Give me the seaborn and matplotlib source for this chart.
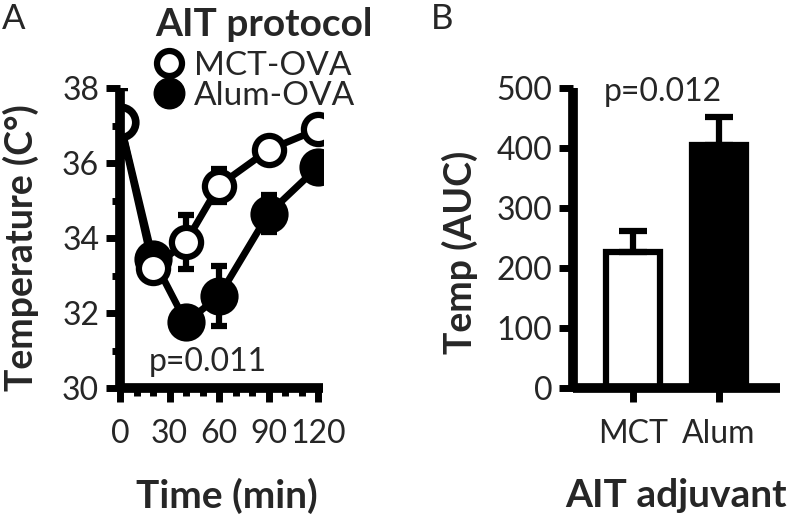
import matplotlib
matplotlib.use("Agg")
import matplotlib.pyplot as plt
from matplotlib.lines import Line2D
from matplotlib.ticker import MultipleLocator
import pandas as pd
import seaborn as sns

# Panel A: body temperature after challenge
TIME_MIN = [0, 20, 40, 60, 90, 120]
MCT_TEMP = [37.1, 33.2, 33.9, 35.4, 36.35, 36.9]
MCT_SEM = [0.9, 0.3, 0.72, 0.45, 0.2, 0.2]
ALUM_TEMP = [37.1, 33.45, 31.75, 32.45, 34.65, 35.9]
ALUM_SEM = [0.9, 0.3, 0.3, 0.8, 0.5, 0.2]

# Panel B: area under the curve
ADJUVANTS = ["MCT", "Alum"]
AUC_MEAN = [227, 405]
AUC_SEM = [35, 46]

FONT = ["Lato", "DejaVu Sans"]
SPINE_LW = 7
TICK_W = 5
TICK_FS = 23


def style_axes(ax):
    sns.despine(ax=ax)
    for side in ("left", "bottom"):
        ax.spines[side].set_linewidth(SPINE_LW)
        ax.spines[side].set_capstyle("butt")
    ax.tick_params(which="major", length=10, width=TICK_W, labelsize=TICK_FS, pad=5, color="black")
    ax.tick_params(which="minor", length=6, width=TICK_W, color="black")


def plot_temperature(ax):
    df = pd.DataFrame({"time": TIME_MIN * 2,
                       "temp": ALUM_TEMP + MCT_TEMP,
                       "group": ["Alum-OVA"] * len(TIME_MIN) + ["MCT-OVA"] * len(TIME_MIN)})
    for group, sem, face in [("Alum-OVA", ALUM_SEM, "black"), ("MCT-OVA", MCT_SEM, "white")]:
        sub = df[df["group"] == group]
        ax.errorbar(sub["time"], sub["temp"], yerr=sem, fmt="none", ecolor="black",
                    elinewidth=4.5, capsize=6, capthick=4.5, zorder=3)
        sns.lineplot(data=sub, x="time", y="temp", ax=ax, color="black", lw=5,
                     marker="o", markersize=21 if face == "white" else 23,
                     markerfacecolor=face, markeredgecolor="black",
                     markeredgewidth=4.5, zorder=4, errorbar=None)

    ax.set_xlim(0, 123)
    ax.set_ylim(30, 38)
    ax.xaxis.set_major_locator(MultipleLocator(30))
    ax.xaxis.set_minor_locator(MultipleLocator(10))
    ax.yaxis.set_major_locator(MultipleLocator(2))
    ax.yaxis.set_minor_locator(MultipleLocator(1))
    style_axes(ax)
    ax.tick_params(axis="x", which="major", pad=12)
    for spine in ax.spines.values():
        spine.set_zorder(5)

    ax.set_xlabel("Time (min)", fontsize=28, fontweight="bold")
    ax.set_ylabel("Temperature (C°)", fontsize=27, fontweight="bold")
    ax.xaxis.set_label_coords(0.527, -0.30)
    ax.yaxis.set_label_coords(-0.40, 0.467)
    ax.text(53, 30.7, "p=0.011", fontsize=TICK_FS, ha="center", va="center")

    handles = [
        Line2D([], [], ls="none", marker="o", markersize=18, mfc="white", mec="black", mew=4.5),
        Line2D([], [], ls="none", marker="o", markersize=22, mfc="black", mec="black"),
    ]
    leg = ax.legend(handles, ["MCT-OVA", "Alum-OVA"], title="AIT protocol",
                    loc="upper left", bbox_to_anchor=(0.197, 0.986), bbox_transform=fig.transFigure,
                    frameon=False, fontsize=24, handletextpad=0.35, labelspacing=0.0,
                    borderaxespad=0, handlelength=0.8, borderpad=0,
                    title_fontproperties={"weight": "bold", "size": 28, "family": FONT})
    leg._legend_box.align = "left"
    leg._legend_box.sep = 6


def plot_auc(ax):
    df = pd.DataFrame({"adjuvant": ADJUVANTS, "auc": AUC_MEAN})
    sns.barplot(data=df, x="adjuvant", y="auc", ax=ax, palette=["white", "black"],
                hue="adjuvant", legend=False, width=0.62, edgecolor="black",
                linewidth=4.5, errorbar=None)
    ax.errorbar(range(len(ADJUVANTS)), AUC_MEAN, yerr=[[0, 0], AUC_SEM], fmt="none",
                ecolor="black", elinewidth=4.5, capsize=10, capthick=4.5, zorder=1)
    ax.set_xlim(-0.70, 1.71)
    ax.set_ylim(0, 500)
    ax.yaxis.set_major_locator(MultipleLocator(100))
    style_axes(ax)
    ax.tick_params(axis="x", which="major", pad=12)

    ax.set_xlabel("AIT adjuvant", fontsize=28, fontweight="bold")
    ax.set_ylabel("Temp (AUC)", fontsize=27, fontweight="bold")
    ax.xaxis.set_label_coords(0.498, -0.30)
    ax.yaxis.set_label_coords(-0.46, 0.453)
    ax.text(0.35, 493, "p=0.012", fontsize=TICK_FS, ha="center", va="center")


sns.set_style("ticks")
plt.rcParams["font.family"] = FONT
plt.rcParams["axes.edgecolor"] = "black"

fig = plt.figure(figsize=(7.89, 5.19), dpi=100)
ax_a = fig.add_axes([120 / 789, 1 - 388 / 519, 203 / 789, 300 / 519])
ax_b = fig.add_axes([573 / 789, 1 - 388 / 519, 207 / 789, 300 / 519])

plot_temperature(ax_a)
plot_auc(ax_b)

fig.text(2 / 789, 1 - 19 / 519, "A", fontsize=25, va="center", ha="left")
fig.text(431 / 789, 1 - 19 / 519, "B", fontsize=25, va="center", ha="left")

fig.savefig("out.png", dpi=100)
